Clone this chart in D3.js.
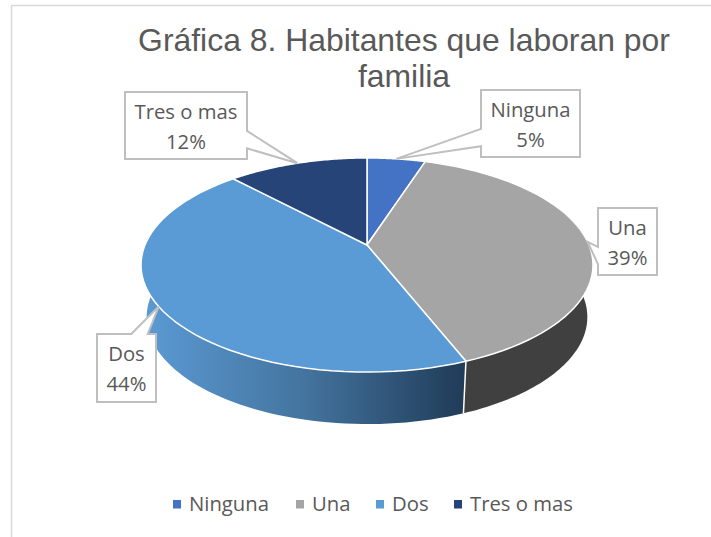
<!DOCTYPE html>
<html><head><meta charset="utf-8">
<script src="https://cdn.jsdelivr.net/npm/d3@7"></script>
<style>html,body{margin:0;padding:0;background:#fff}svg{display:block}</style></head>
<body><svg id="c" width="711" height="537"></svg>
<script>
const titleLines = ["Gráfica 8. Habitantes que laboran por", "familia"];
const categories = ["Ninguna", "Una", "Dos", "Tres o mas"];
const values = [5, 39, 44, 12];
const colors = ["#4472c4", "#a5a5a5", "#5b9bd5", "#264478"];
const labelBoxes = [[481, 90, 99, 67], [598, 208, 59, 67], [97, 334, 59, 68], [125, 92, 122, 67]];
const legendX = [173, 296, 376, 454];

const svg = d3.select("#c");
const cx = 367, cy = 245, Rx = 222, Ry = 103.3, k = 0.187, depth = 52, shrink = 0.975;
const project = a => {
  const x = Math.sin(a), y = -Math.cos(a), w = 1 - k * y;
  return [cx + Rx * x / w, cy + Ry * y / w];
};
const lower = ([x, y]) => [cx + (x - cx) * shrink, y + depth];
const arcs = d3.pie().sort(null)(values);
const sample = (a0, a1) => d3.range(0, 61).map(i => project(a0 + (a1 - a0) * i / 60));
const line = d3.line();

// frame
svg.append("path").attr("d", "M711 5.5H11.5V537").attr("fill", "none").attr("stroke", "#d9d9d9").attr("stroke-width", 1.5);

const defs = svg.append("defs");
const g = defs.append("linearGradient").attr("id", "dosSide").attr("gradientUnits", "userSpaceOnUse")
  .attr("x1", 141).attr("x2", 466).attr("y1", 0).attr("y2", 0);
g.append("stop").attr("offset", 0).attr("stop-color", "#5b9bd5");
g.append("stop").attr("offset", 0.5).attr("stop-color", "#44749f");
g.append("stop").attr("offset", 1).attr("stop-color", "#1f3b57");

// side walls
const rightExt = Math.PI / 2 - Math.asin(k) + 0.165;
const leftExt = 2 * Math.PI - rightExt;
const walls = [
  { a0: arcs[1].startAngle, a1: arcs[1].endAngle, fill: "#404040" },
  { a0: arcs[2].startAngle, a1: arcs[2].endAngle, fill: "url(#dosSide)" }
];
walls.forEach(w => {
  const a0 = Math.max(w.a0, rightExt), a1 = Math.min(w.a1, leftExt);
  const top = sample(a0, a1), bot = top.map(lower).reverse();
  svg.append("path").attr("d", line(top.concat(bot)) + "Z").attr("fill", w.fill);
});
// white seam between the two walls
{
  const p = project(arcs[1].endAngle);
  svg.append("path").attr("d", line([p, lower(p)])).attr("stroke", "#fff").attr("stroke-width", 1.5);
}

// top slices
arcs.forEach((d, i) => {
  svg.append("path").attr("d", line([[cx, cy]].concat(sample(d.startAngle, d.endAngle))) + "Z")
    .attr("fill", colors[i]).attr("stroke", "#fff").attr("stroke-width", 1.5).attr("stroke-linejoin", "round");
});

// title
const title = svg.append("g").attr("font-family", "Liberation Sans").attr("font-size", 31.9).attr("fill", "#595959").attr("text-anchor", "middle");
titleLines.forEach((t, i) => title.append("text").attr("x", 404).attr("y", 50.5 + i * 36.5).text(t));

// callouts
const tips = arcs.map(d => project((d.startAngle + d.endAngle) / 2));
labelBoxes.forEach(([x, y, w, h], i) => {
  const [tx, ty] = tips[i];
  let p;
  if (tx < x) p = [[x, y], [x + w, y], [x + w, y + h], [x, y + h], [x, y + h * 0.84], [tx, ty], [x, y + h * 0.58]];
  else if (tx > x + w) p = [[x, y], [x + w, y], [x + w, y + h * 0.58], [tx, ty], [x + w, y + h * 0.84], [x + w, y + h], [x, y + h]];
  if (ty < y) p = [[x, y], [x + w * 0.58, y], [tx, ty], [x + w * 0.86, y], [x + w, y], [x + w, y + h], [x, y + h]];
  svg.append("path").attr("d", line(p) + "Z").attr("fill", "#fff").attr("stroke", "#bfbfbf").attr("stroke-width", 2);
  const t = svg.append("text").attr("font-family", "Open Sans").attr("font-size", 20.3).attr("fill", "#595959").attr("text-anchor", "middle");
  t.append("tspan").attr("x", x + w / 2).attr("y", y + 27).text(categories[i]);
  t.append("tspan").attr("x", x + w / 2).attr("y", y + 57).text(d3.format(".0%")(values[i] / d3.sum(values)));
});

// legend
categories.forEach((c, i) => {
  svg.append("rect").attr("x", legendX[i]).attr("y", 500).attr("width", 8).attr("height", 8.5).attr("fill", colors[i]);
  svg.append("text").attr("x", legendX[i] + 16).attr("y", 511).attr("font-family", "Open Sans").attr("font-size", 20.3).attr("fill", "#595959").text(c);
});
</script></body></html>
